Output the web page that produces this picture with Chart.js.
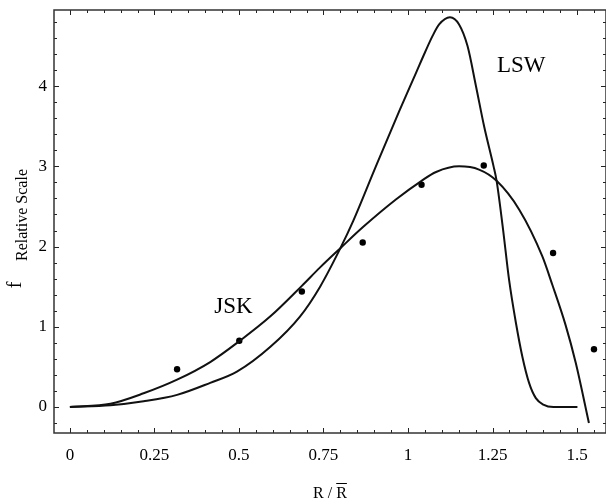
<!DOCTYPE html>
<html>
<head>
<meta charset="utf-8">
<script src="https://cdn.jsdelivr.net/npm/chart.js@4.4.0/dist/chart.umd.min.js"></script>
<style>
  html, body { margin: 0; padding: 0; background: #fff; overflow: hidden; }
  #wrap { width: 610px; height: 500px; }
</style>
</head>
<body>
<div id="wrap"><canvas id="grafico" width="610" height="500"></canvas></div>
<script>
const xTicks = [0, 0.25, 0.5, 0.75, 1, 1.25, 1.5];
const xTickLabels = ['0', '0.25', '0.5', '0.75', '1', '1.25', '1.5'];
const yTicks = [0, 1, 2, 3, 4];
const yTickLabels = ['0', '1', '2', '3', '4'];

// JSK curve
const jskX = [0, 0.12, 0.218, 0.317, 0.415, 0.501, 0.593, 0.686, 0.74, 0.80, 0.866, 0.965, 1.04, 1.083, 1.151, 1.21, 1.262, 1.329, 1.397, 1.427, 1.466, 1.496, 1.535];
const jskY = [0, 0.04, 0.17, 0.34, 0.56, 0.82, 1.13, 1.51, 1.74, 1.98, 2.24, 2.59, 2.82, 2.93, 3.00, 2.96, 2.82, 2.46, 1.88, 1.52, 1.02, 0.55, -0.2];

// LSW curve
const lswX = [0, 0.12, 0.218, 0.317, 0.415, 0.494, 0.593, 0.681, 0.74, 0.80, 0.838, 0.9, 0.974, 1.024, 1.05, 1.073, 1.092, 1.124, 1.151, 1.176, 1.201, 1.225, 1.253, 1.262, 1.28, 1.299, 1.319, 1.338, 1.358, 1.378, 1.40, 1.43, 1.501];
const lswY = [0, 0.02, 0.07, 0.15, 0.30, 0.44, 0.75, 1.13, 1.50, 1.98, 2.32, 2.95, 3.69, 4.17, 4.42, 4.63, 4.77, 4.86, 4.77, 4.50, 4.00, 3.50, 3.00, 2.82, 2.25, 1.58, 1.05, 0.63, 0.30, 0.11, 0.03, 0, 0];

// measured points
const dotX = [0.317, 0.501, 0.686, 0.866, 1.040, 1.224, 1.429, 1.550];
const dotY = [0.47, 0.825, 1.44, 2.05, 2.77, 3.01, 1.92, 0.72];

const curveNames = ['JSK', 'LSW'];
const namePosX = [0.484, 1.335];
const namePosY = [1.25, 4.25];

const serif = "'Liberation Serif', 'Times New Roman', serif";

function pares(xs, ys) {
    return xs.map((x, i) => ({ x: x, y: ys[i] }));
}

const moldura = {
    id: 'moldura',
    afterDraw(chart) {
        const ctx = chart.ctx;
        const a = chart.chartArea;
        const sx = chart.scales.x;
        const sy = chart.scales.y;
        ctx.save();

        // ticks para dentro, nos quatro lados
        ctx.strokeStyle = '#222';
        ctx.lineWidth = 1;
        ctx.beginPath();
        for (let i = 0; i <= 31; i++) {
            const px = Math.round(sx.getPixelForValue(i * 0.05)) + 0.5;
            const len = i % 5 === 0 ? 5 : 3;
            ctx.moveTo(px, a.bottom); ctx.lineTo(px, a.bottom - len);
            ctx.moveTo(px, a.top); ctx.lineTo(px, a.top + len);
        }
        for (let i = -1; i <= 24; i++) {
            const py = Math.round(sy.getPixelForValue(i * 0.2)) + 0.5;
            const len = i % 5 === 0 ? 5 : 3;
            ctx.moveTo(a.left, py); ctx.lineTo(a.left + len, py);
            ctx.moveTo(a.right, py); ctx.lineTo(a.right - len, py);
        }
        ctx.stroke();

        ctx.strokeStyle = '#333';
        ctx.lineWidth = 1.5;
        ctx.strokeRect(a.left, a.top, a.right - a.left, a.bottom - a.top);

        // nomes das curvas
        ctx.fillStyle = '#000';
        ctx.font = '23px ' + serif;
        ctx.textAlign = 'center';
        ctx.textBaseline = 'middle';
        curveNames.forEach((n, i) => {
            ctx.fillText(n, sx.getPixelForValue(namePosX[i]), sy.getPixelForValue(namePosY[i]));
        });

        // titulo do eixo x: R / R com barra
        ctx.font = '16px ' + serif;
        ctx.textAlign = 'left';
        ctx.textBaseline = 'alphabetic';
        const titulo = 'R / R';
        const w = ctx.measureText(titulo).width;
        const cx = (a.left + a.right) / 2;
        const x0 = cx - w / 2;
        const base = 498;
        ctx.fillText(titulo, x0, base);
        const xr = x0 + ctx.measureText('R / ').width;
        const wr = ctx.measureText('R').width;
        ctx.lineWidth = 1;
        ctx.strokeStyle = '#000';
        ctx.beginPath();
        ctx.moveTo(xr, base - 14.5);
        ctx.lineTo(xr + wr, base - 14.5);
        ctx.stroke();

        // titulo do eixo y
        ctx.save();
        ctx.translate(27, 215);
        ctx.rotate(-Math.PI / 2);
        ctx.textAlign = 'center';
        ctx.font = '16px ' + serif;
        ctx.fillText('Relative Scale', 0, 0);
        ctx.restore();
        ctx.save();
        ctx.translate(21, 285);
        ctx.rotate(-Math.PI / 2);
        ctx.textAlign = 'center';
        ctx.font = '20px ' + serif;
        ctx.fillText('f', 0, 0);
        ctx.restore();

        ctx.restore();
    }
};

const ctx = document.getElementById('grafico').getContext('2d');
const chart = new Chart(ctx, {
    type: 'scatter',
    data: {
        datasets: [
            {
                label: 'JSK',
                data: pares(jskX, jskY),
                showLine: true,
                borderColor: '#111',
                borderWidth: 2,
                pointRadius: 0,
                cubicInterpolationMode: 'monotone'
            },
            {
                label: 'LSW',
                data: pares(lswX, lswY),
                showLine: true,
                borderColor: '#111',
                borderWidth: 2,
                pointRadius: 0,
                cubicInterpolationMode: 'monotone'
            },
            {
                label: 'dados',
                data: pares(dotX, dotY),
                showLine: false,
                pointRadius: 3.2,
                pointBackgroundColor: '#000',
                pointBorderWidth: 0
            }
        ]
    },
    options: {
        responsive: false,
        animation: false,
        layout: { padding: { top: 10, right: 3, left: 0, bottom: 0 } },
        plugins: {
            legend: { display: false },
            tooltip: { enabled: false }
        },
        scales: {
            x: {
                type: 'linear',
                min: -0.047,
                max: 1.5855,
                grid: { display: false, drawTicks: false },
                border: { display: false },
                afterBuildTicks: s => { s.ticks = xTicks.map(v => ({ value: v })); },
                afterFit: s => { s.height = 67; s.paddingLeft = 0; s.paddingRight = 0; },
                ticks: {
                    callback: v => xTickLabels[xTicks.indexOf(v)],
                    font: { family: serif, size: 17 },
                    color: '#000',
                    padding: 12,
                    maxRotation: 0,
                    autoSkip: false
                }
            },
            y: {
                type: 'linear',
                min: -0.325,
                max: 4.95,
                grid: { display: false, drawTicks: false },
                border: { display: false },
                afterBuildTicks: s => { s.ticks = yTicks.map(v => ({ value: v })); },
                afterFit: s => { s.width = 54; s.paddingTop = 0; s.paddingBottom = 0; },
                ticks: {
                    callback: v => yTickLabels[yTicks.indexOf(v)],
                    font: { family: serif, size: 17 },
                    color: '#000',
                    padding: 7,
                    autoSkip: false
                }
            }
        }
    },
    plugins: [moldura]
});
</script>
</body>
</html>
